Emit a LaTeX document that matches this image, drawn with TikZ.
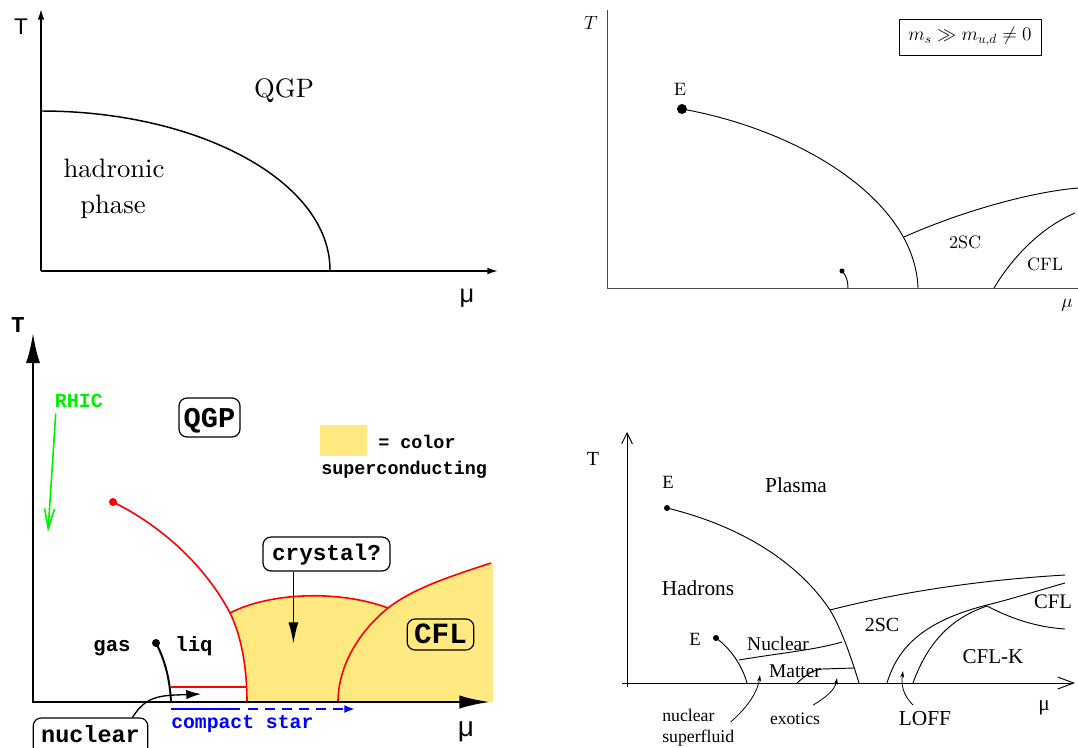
\documentclass[tikz,border=0pt]{standalone}
\usepackage{fontspec}
\usetikzlibrary{arrows.meta,calc}
\newfontfamily\helv{Liberation Sans}
\newfontfamily\cour{Liberation Mono}
\newfontfamily\tms{Liberation Serif}
\newfontfamily\lmten{lmroman10-regular}[Extension=.otf]
\newcommand\fsz[1]{\fontsize{#1pt}{#1pt}\selectfont}
\definecolor{sccol}{RGB}{255,233,128}
\definecolor{rhiccol}{RGB}{0,240,0}
\definecolor{axgray}{RGB}{70,70,70}
\begin{document}
\begin{tikzpicture}[x=0.75pt,y=-0.75pt,
  ax1/.style={line width=1.1pt},
  txt/.style={inner sep=0pt, anchor=base},
  p1txt/.style={txt, font=\lmten\fsz{20}},
  ln2/.style={line width=0.7pt},
  p2txt/.style={txt, font=\lmten\fsz{13.5}},
  ax3/.style={line width=1.9pt},
  red3/.style={draw=red, line width=1.2pt},
  box3/.style={draw, rounded corners=6pt, line width=0.9pt, inner xsep=0pt, inner ysep=0pt, anchor=base},
  mono/.style={txt, font=\cour\bfseries\fsz{#1}},
  ln4/.style={line width=0.7pt},
  p4txt/.style={txt, font=\tms\fsz{#1}},
  dotn/.style={circle, fill=#1, inner sep=0pt},
  smallarr/.style={line width=0.6pt, -{Stealth[length=5pt,width=3pt]}}
]
\useasboundingbox (0,0) rectangle (1078,747);

%% ---------------- Panel 1 (top left) ----------------
\draw[ax1,-{Latex[length=8pt,width=5pt]}] (41,271) -- (41,9);
\draw[ax1,-{Latex[length=8pt,width=5pt]}] (41,271) -- (498,271);
\draw[ax1] (41,111) .. controls (200,111) and (330,182) .. (330,270);
\node[txt, font=\helv\fsz{17}] (T1) at (21,34) {T};
\node[txt, font=\helv\fsz{19}] (mu1) at (467,302) {μ};
\node[p1txt] (qgp1) at (284,97) {QGP};
\node[p1txt] (had1) at (114,177) {hadronic};
\node[p1txt] (pha1) at (113,213) {phase};

%% ---------------- Panel 2 (top right) ----------------
\draw[ln2, draw=axgray] (607,10) -- (607,288) -- (1078,288);
\node[inner sep=0pt, font=\fsz{14}] (T2) at (591,23) {$T$};
\node[inner sep=0pt, font=\fsz{14}] (mu2) at (1067,305) {$\mu$};
\node[draw, line width=0.6pt, minimum width=106.5pt, minimum height=27pt, font=\fsz{14.5}] (box2) at (970,37) {$m_s \gg m_{u,d} \neq 0$};
\node[p2txt] (E2) at (680,95) {E};
\node[dotn=black, minimum size=7.5pt] (dotE2) at (682,109) {};
\draw[ln2] (dotE2.center) .. controls (800,130) and (915,200) .. (918,288);
\draw[ln2] (904,237) .. controls (960,212) and (1030,192) .. (1078,188);
\draw[ln2] (994,288) .. controls (1012,258) and (1040,228) .. (1075,213);
\node[dotn=black, minimum size=3.8pt] (dot2b) at (842,271) {};
\draw[ln2] (dot2b.center) .. controls (846,275) and (848,281) .. (848,288);
\node[p2txt] (sc2) at (965,248) {2SC};
\node[p2txt] (cfl2) at (1045,270) {CFL};

%% ---------------- Panel 3 (bottom left) ----------------
\fill[sccol] (230,613) .. controls (270,592) and (340,590) .. (388,608)
  .. controls (415,587) and (455,575) .. (493,563) -- (493,702) -- (247,702)
  .. controls (247,670) and (242,637) .. (230,613) -- cycle;
\node[dotn=red, minimum size=6pt] (cp3) at (113,502) {};
\draw[red3] (cp3.center) .. controls (160,525) and (205,565) .. (230,613)
  .. controls (242,637) and (247,670) .. (247,702);
\draw[red3] (230,613) .. controls (270,592) and (340,590) .. (388,608);
\draw[red3] (338,702) .. controls (338,670) and (355,635) .. (388,608)
  .. controls (415,587) and (455,575) .. (491,563);
\draw[red3] (171,687) -- (246.5,687);
\node[dotn=black, minimum size=6pt] (lg) at (156,643) {};
\draw[line width=1.5pt] (lg.center) .. controls (165,660) and (170,680) .. (171,702);

\draw[ax3,-{Latex[length=22.5pt,width=10.5pt]}] (33,703) -- (33,333);
\draw[ax3,-{Latex[length=23pt,width=10pt]}] (32,702) -- (490,702);

\node[mono=17] (T3) at (18,332) {T};
\node[txt, font=\helv\fsz{21}] (mu3) at (466,736) {μ};
\node[mono=15, text=rhiccol] (rhic) at (79,407) {RHIC};
\coordinate (rhicEnd) at (48,532);
\draw[rhiccol, line width=1.2pt, -{Straight Barb[length=15pt,width=7.5pt]}] ($(rhic.south west)+(1,6)$) -- (rhicEnd);

\node[box3, font=\cour\bfseries\fsz{21.5}, text height=21.75pt, text depth=7.5pt, minimum width=45.75pt] (qgp3) at (209.5,427) {QGP};
\node[fill=sccol, inner sep=0pt, minimum width=35.25pt, minimum height=23.25pt] (swatch) at (343.5,440.5) {};
\node[mono=13.8, anchor=base west] (eqc) at (378,448) {= color};
\node[mono=13.8, anchor=base west] (supc) at (321,474) {superconducting};

\node[mono=15.5] (gas) at (112,651) {gas};
\node[mono=15.5] (liq) at (194,651) {liq};

\node[box3, font=\cour\bfseries\fsz{17}, text height=17.25pt, text depth=8.25pt, minimum width=95.25pt] (cry) at (326.5,560) {crystal?};
\draw[line width=1.1pt, -{Latex[length=16pt,width=7.5pt]}] ($(cry.south west)+(31,0)$) -- ++(0,72);

\node[box3, font=\cour\bfseries\fsz{22}, text height=18pt, text depth=5.25pt, minimum width=50pt] (cfl3) at (440.5,643) {CFL};

\node[box3, font=\cour\bfseries\fsz{17.6}, text height=18pt, text depth=11.25pt, minimum width=86pt] (nuc) at (90.5,742) {nuclear};
\draw[line width=1pt, -{Latex[length=11pt,width=7pt]}] ($(nuc.north east)+(-16,0)$) .. controls (142,703) and (150,696) .. (175,695) -- (201,694);

\draw[blue, line width=1.5pt] (171,709) -- (240,709);
\draw[blue, line width=1.5pt, dash pattern=on 7.5pt off 5.25pt, -{Latex[length=8pt,width=6pt]}] (248,709) -- (355,709);
\node[mono=14.8, anchor=base west, text=blue] (cs) at (171,728) {compact star};

%% ---------------- Panel 4 (bottom right) ----------------
\draw[ln4, -{Straight Barb[length=8pt,width=8pt]}] (627,687) -- (627,432);
\draw[ln4, -{Straight Barb[length=12pt,width=9pt]}] (622,683) -- (1075,683);
\node[p4txt=15] (T4) at (593,465) {T};
\node[p4txt=16] (mu4) at (1044,710) {μ};
\node[p4txt=14] (E4a) at (668,488) {E};
\node[dotn=black, minimum size=4.5pt] (dE4a) at (667,508) {};
\node[p4txt=16] (plasma) at (796,492) {Plasma};
\node[p4txt=16] (hadr) at (698,595) {Hadrons};
\node[p4txt=14] (E4b) at (695,645) {E};
\node[dotn=black, minimum size=4.5pt] (dE4b) at (716,638) {};
\node[p4txt=14.6] (nucl4) at (778,650) {Nuclear};
\node[p4txt=14.6] (matt4) at (795,677) {Matter};
\node[p4txt=15] (sc4) at (882,631) {2SC};
\node[p4txt=15.5] (cfl4) at (1053,608) {CFL};
\node[p4txt=15.8] (cflk4) at (993,663) {CFL-K};
\node[p4txt=16] (loff) at (925,725) {LOFF};
\node[p4txt=13.3, anchor=base west] (ns1) at (662,721) {nuclear};
\node[p4txt=13.3, anchor=base west] (ns2) at (662,742) {superfluid};
\node[p4txt=13.2] (exo) at (795,724) {exotics};

\draw[ln4] (dE4a.center) .. controls (745,527) and (800,565) .. (830,610)
  .. controls (842,630) and (852,660) .. (859,683);
\draw[ln4] (830,610) .. controls (900,592) and (980,580) .. (1065,575);
\draw[ln4] (dE4b.center) .. controls (730,648) and (742,665) .. (747,683);
\draw[ln4] (739,660) .. controls (780,653) and (815,650) .. (842,642);
\draw[ln4] (797,683) .. controls (805,676) and (812,670) .. (822,669) -- (854,668);
\draw[ln4] (887,683) .. controls (897,650) and (920,622) .. (987,605)
  .. controls (1015,598) and (1040,590) .. (1065,583);
\draw[ln4] (913,683) .. controls (925,650) and (945,620) .. (987,606);
\draw[ln4] (987,606) .. controls (1010,618) and (1035,627) .. (1065,629);

\draw[smallarr] ($(ns1.base east)+(16,1)$) .. controls (750,705) and (758,690) .. (760,675);
\draw[smallarr] ($(exo.base east)+(-7,-19)$) .. controls (825,698) and (835,690) .. (837,678);
\draw[smallarr] ($(loff.base)+(-12,-20)$) .. controls (903,695) and (901,685) .. (903,671);
\end{tikzpicture}
\end{document}
